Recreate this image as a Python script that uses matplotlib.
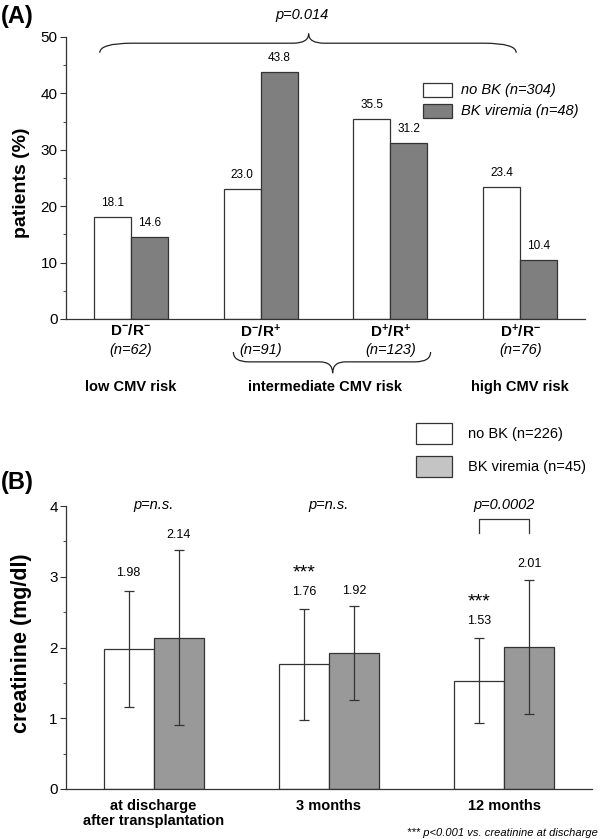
import matplotlib
matplotlib.use('Agg')
import matplotlib.pyplot as plt
from matplotlib.path import Path
from matplotlib.patches import PathPatch, Rectangle

plt.rcParams['font.family'] = ['Liberation Sans', 'DejaVu Sans']
plt.rcParams['mathtext.fontset'] = 'custom'
plt.rcParams['mathtext.rm'] = 'Liberation Sans'
plt.rcParams['mathtext.bf'] = 'Liberation Sans:bold'

# panel A data
serostatus = [r'$\mathbf{D^{-}/R^{-}}$', r'$\mathbf{D^{-}/R^{+}}$',
              r'$\mathbf{D^{+}/R^{+}}$', r'$\mathbf{D^{+}/R^{-}}$']
group_n = ['(n=62)', '(n=91)', '(n=123)', '(n=76)']
no_bk_pct = [18.1, 23.0, 35.5, 23.4]
bk_pct = [14.6, 43.8, 31.2, 10.4]
risk_names = ['low CMV risk', 'intermediate CMV risk', 'high CMV risk']
risk_pos = [0, 1.5, 3]
legend_a = ['no BK (n=304)', 'BK viremia (n=48)']

# panel B data
timepoints = ['at discharge\nafter transplantation', '3 months', '12 months']
no_bk_crea = [1.98, 1.76, 1.53]
no_bk_sd = [0.82, 0.78, 0.60]
bk_crea = [2.14, 1.92, 2.01]
bk_sd = [1.235, 0.66, 0.95]
p_values = ['p=n.s.', 'p=n.s.', 'p=0.0002']
stars = ['', '***', '***']
legend_b = ['no BK (n=226)', 'BK viremia (n=45)']

W, H = 600, 839


def fx(px):
    return px / W


def fy(py):
    return 1 - py / H


def brace(ax, x0, x1, xm, y_end, y_line, y_tip, r, rt):
    verts = [(x0, y_end), (x0, y_line), (x0 + r, y_line),
             (xm - rt, y_line), (xm, y_line), (xm, y_tip),
             (xm, y_line), (xm + rt, y_line),
             (x1 - r, y_line), (x1, y_line), (x1, y_end)]
    codes = [Path.MOVETO, Path.CURVE3, Path.CURVE3,
             Path.LINETO, Path.CURVE3, Path.CURVE3,
             Path.CURVE3, Path.CURVE3,
             Path.LINETO, Path.CURVE3, Path.CURVE3]
    ax.add_patch(PathPatch(Path(verts, codes), fill=False, lw=0.9,
                           color='#222222', clip_on=False))


def style_axes(ax):
    for s in ['top', 'right']:
        ax.spines[s].set_visible(False)
    for s in ['left', 'bottom']:
        ax.spines[s].set_color('#333333')
        ax.spines[s].set_linewidth(0.9)
    ax.tick_params(axis='y', which='major', length=4, width=0.8,
                   color='#333333', labelsize=11, pad=2)
    ax.tick_params(axis='y', which='minor', length=2.5, width=0.8,
                   color='#555555')
    ax.tick_params(axis='x', length=0)


fig = plt.figure(figsize=(6, 8.39), dpi=100)

# ---------------- panel A ----------------
axA = fig.add_axes([fx(66), fy(319), fx(585) - fx(66), fy(37) - fy(319)])
w = 0.286
xa = list(range(len(no_bk_pct)))
axA.bar([x - w / 2 for x in xa], no_bk_pct, w, color='white',
        edgecolor='#333333', lw=0.9)
axA.bar([x + w / 2 for x in xa], bk_pct, w, color='#7f7f7f',
        edgecolor='#333333', lw=0.9)
for x, v in zip(xa, no_bk_pct):
    axA.text(x - w / 2, v + 1.4, '%.1f' % v, ha='center', va='bottom', fontsize=8.5)
for x, v in zip(xa, bk_pct):
    axA.text(x + w / 2, v + 1.4, '%.1f' % v, ha='center', va='bottom', fontsize=8.5)
axA.set_xlim(-0.5, 3.5)
axA.set_ylim(0, 50)
axA.set_yticks([0, 10, 20, 30, 40, 50])
axA.set_yticks([5, 15, 25, 35, 45], minor=True)
axA.set_xticks(xa)
axA.set_xticklabels(serostatus, fontsize=11)
axA.tick_params(axis='x', pad=3)
style_axes(axA)
for x, n in zip(xa, group_n):
    axA.text(x, -0.11, n, transform=axA.get_xaxis_transform(), ha='center',
             va='center', fontsize=10.5, style='italic')
for x, r in zip(risk_pos, risk_names):
    axA.text(x, -0.241, r, transform=axA.get_xaxis_transform(), ha='center',
             va='center', fontsize=10.5, fontweight='bold')
brace(axA, -0.24, 2.97, 1.37, 47.2, 48.9, 50.6, 0.25, 0.12)
brace(axA, 0.79, 2.31, 1.555, -5.85, -7.6, -9.6, 0.12, 0.1)
fig.text(fx(302), fy(15), 'p=0.014', ha='center', va='center',
         fontsize=10.5, style='italic')
fig.text(fx(1), fy(16), '(A)', ha='left', va='center', fontsize=17,
         fontweight='bold')
fig.text(fx(22), fy(183), 'patients (%)', rotation=90, ha='center',
         va='center', fontsize=14, fontweight='bold')

# legend A
for i, (lab, col) in enumerate(zip(legend_a, ['white', '#7f7f7f'])):
    top = 83 + i * 21
    fig.add_artist(Rectangle((fx(423), fy(top + 14)), fx(29), 14 / H,
                             transform=fig.transFigure, facecolor=col,
                             edgecolor='#333333', lw=0.9))
    fig.text(fx(461), fy(top + 7), lab, ha='left', va='center',
             fontsize=10.5, style='italic')

# ---------------- panel B ----------------
axB = fig.add_axes([fx(66), fy(789), fx(592) - fx(66), fy(506) - fy(789)])
xb = list(range(len(no_bk_crea)))
axB.bar([x - w / 2 for x in xb], no_bk_crea, w, color='white',
        edgecolor='#333333', lw=0.9)
axB.bar([x + w / 2 for x in xb], bk_crea, w, color='#999999',
        edgecolor='#333333', lw=0.9)
axB.errorbar([x - w / 2 for x in xb], no_bk_crea, yerr=no_bk_sd, fmt='none',
             ecolor='#333333', elinewidth=0.9, capsize=3.5, capthick=0.9)
axB.errorbar([x + w / 2 for x in xb], bk_crea, yerr=bk_sd, fmt='none',
             ecolor='#333333', elinewidth=0.9, capsize=3.5, capthick=0.9)
for x, v, s, st in zip(xb, no_bk_crea, no_bk_sd, stars):
    ly = v + s + 0.25
    axB.text(x - w / 2, ly, '%.2f' % v, ha='center', va='center', fontsize=9)
    if st:
        axB.text(x - w / 2, ly + 0.26, st, ha='center', va='center', fontsize=14)
for x, v, s in zip(xb, bk_crea, bk_sd):
    axB.text(x + w / 2, v + s + 0.22, '%.2f' % v, ha='center', va='center',
             fontsize=9)
for x, p in zip(xb, p_values):
    axB.text(x, 4.01, p, ha='center', va='center', fontsize=10.5,
             style='italic', clip_on=False)
# bracket for 12 months
axB.plot([2 - w / 2, 2 - w / 2, 2 + w / 2, 2 + w / 2], [3.62, 3.82, 3.82, 3.62],
         color='#333333', lw=0.9)
axB.set_xlim(-0.5, 2.5)
axB.set_ylim(0, 4)
axB.set_yticks([0, 1, 2, 3, 4])
axB.set_yticks([0.5, 1.5, 2.5, 3.5], minor=True)
axB.set_xticks(xb)
axB.set_xticklabels(timepoints, fontsize=10.5, fontweight='bold',
                    linespacing=1.15)
axB.tick_params(axis='x', pad=7)
style_axes(axB)
fig.text(fx(1), fy(482), '(B)', ha='left', va='center', fontsize=17,
         fontweight='bold')
fig.text(fx(22), fy(643), 'creatinine (mg/dl)', rotation=90, ha='center',
         va='center', fontsize=15.5, fontweight='bold')
fig.text(fx(598), fy(833), '*** p<0.001 vs. creatinine at discharge',
         ha='right', va='center', fontsize=8, style='italic')

# legend B
for i, (lab, col) in enumerate(zip(legend_b, ['white', '#c4c4c4'])):
    top = 423 + i * 33
    fig.add_artist(Rectangle((fx(416), fy(top + 21)), fx(36), 21 / H,
                             transform=fig.transFigure, facecolor=col,
                             edgecolor='#333333', lw=0.9))
    fig.text(fx(468), fy(top + 11), lab, ha='left', va='center', fontsize=10.5)

fig.savefig('out.png', dpi=100)
